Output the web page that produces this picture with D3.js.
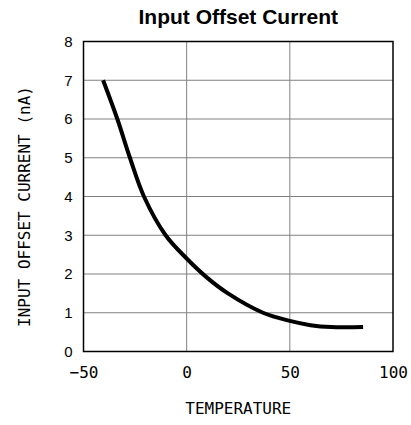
<!DOCTYPE html>
<html>
<head>
<meta charset="utf-8">
<script src="https://cdn.jsdelivr.net/npm/d3@7"></script>
<style>
  body { margin: 0; background: #fff; }
  svg { display: block; }
</style>
</head>
<body>
<div class="chart"></div>
<script>
// data
const temps = [-40.5, -33.6, -27.5, -20.7, -10.2, 0, 10, 20, 37, 50, 60, 70, 85.5];
const currents = [7, 6, 5, 4, 3, 2.4, 1.9, 1.5, 1.0, 0.79, 0.68, 0.63, 0.63];
const xTicks = [-50, 0, 50, 100];
const yTicks = [0, 1, 2, 3, 4, 5, 6, 7, 8];

const width = 411;
const height = 425;
const margin = { top: 41.5, bottom: 73.5, left: 83.5, right: 18 };

const svg = d3.select('.chart')
  .append('svg')
  .attr('width', width)
  .attr('height', height)
  .attr('viewBox', `0 0 ${width} ${height}`);

const x = d3.scaleLinear()
  .domain([-50, 100])
  .range([margin.left, width - margin.right]);

const y = d3.scaleLinear()
  .domain([0, 8])
  .range([height - margin.bottom, margin.top]);

// grid
svg.append('g')
  .attr('stroke', '#808080')
  .attr('stroke-width', 1)
  .selectAll('line')
  .data(yTicks.slice(1, -1))
  .join('line')
  .attr('x1', x(-50)).attr('x2', x(100))
  .attr('y1', d => y(d)).attr('y2', d => y(d));

svg.append('g')
  .attr('stroke', '#808080')
  .attr('stroke-width', 1)
  .selectAll('line')
  .data(xTicks.slice(1, -1))
  .join('line')
  .attr('y1', y(0)).attr('y2', y(8))
  .attr('x1', d => x(d)).attr('x2', d => x(d));

// frame
svg.append('rect')
  .attr('x', x(-50))
  .attr('y', y(8))
  .attr('width', x(100) - x(-50))
  .attr('height', y(0) - y(8))
  .attr('fill', 'none')
  .attr('stroke', '#000')
  .attr('stroke-width', 1.5);

// axes (labels only)
const yAxis = g => {
  g.attr('transform', `translate(${margin.left}, 0)`)
    .call(d3.axisLeft(y).tickValues(yTicks).tickSize(0).tickPadding(11))
    .attr('font-size', '15px')
    .attr('font-family', '"Liberation Sans", Arial, sans-serif')
    .call(g => g.select('.domain').remove());
};

const xAxis = g => {
  g.attr('transform', `translate(0,${height - margin.bottom})`)
    .call(d3.axisBottom(x).tickValues(xTicks).tickSize(0).tickPadding(15)
      .tickFormat(d => d < 0 ? '\u2212' + Math.abs(d) : d))
    .attr('font-size', '16px')
    .attr('font-family', '"DejaVu Sans Mono", monospace')
    .call(g => g.select('.domain').remove());
};

svg.append('g').call(xAxis);
svg.append('g').call(yAxis);
svg.selectAll('.tick text').attr('fill', '#000');

// curve
const line = d3.line()
  .x((d, i) => x(temps[i]))
  .y(d => y(d))
  .curve(d3.curveCatmullRom.alpha(0.5));

svg.append('path')
  .datum(currents)
  .attr('fill', 'none')
  .attr('stroke', '#000')
  .attr('stroke-width', 4)
  .attr('d', line);

// titles
svg.append('text')
  .attr('x', (x(-50) + x(100)) / 2)
  .attr('y', 24)
  .attr('text-anchor', 'middle')
  .attr('font-family', '"Liberation Sans", Arial, sans-serif')
  .attr('font-weight', 'bold')
  .attr('font-size', '21px')
  .text('Input Offset Current');

svg.append('text')
  .attr('x', (x(-50) + x(100)) / 2)
  .attr('y', 414)
  .attr('text-anchor', 'middle')
  .attr('font-family', '"DejaVu Sans Mono", monospace')
  .attr('font-size', '16px')
  .text('TEMPERATURE');

svg.append('text')
  .attr('transform', `translate(30, ${(y(0) + y(8)) / 2 + 10}) rotate(-90)`)
  .attr('text-anchor', 'middle')
  .attr('font-family', '"DejaVu Sans Mono", monospace')
  .attr('font-size', '16px')
  .text('INPUT OFFSET CURRENT (nA)');
</script>
</body>
</html>
